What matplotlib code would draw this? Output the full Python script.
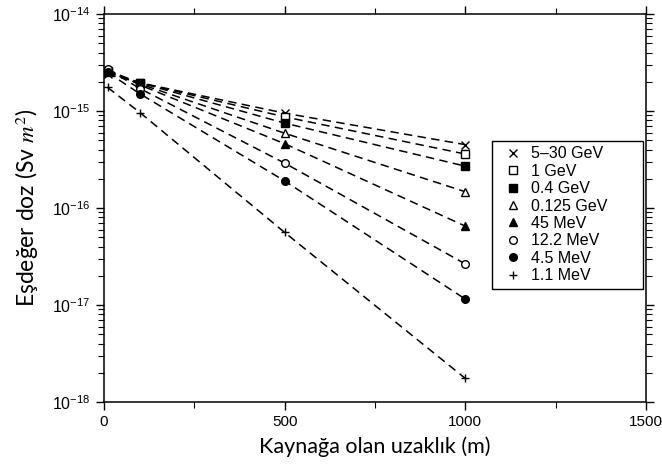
import matplotlib.pyplot as plt
from matplotlib.ticker import FixedLocator, LogLocator, NullFormatter, FixedFormatter
import numpy as np

plt.rcParams['mathtext.fontset'] = 'stix'

# distance from source (m)
distance = [10, 100, 500, 1000]

# equivalent dose (Sv m^2) per neutron energy
labels = ['5–30 GeV', '1 GeV', '0.4 GeV', '0.125 GeV',
          '45 MeV', '12.2 MeV', '4.5 MeV', '1.1 MeV']
dose_5_30gev = [2.4e-15, 1.95e-15, 9.5e-16, 4.5e-16]
dose_1gev = [2.5e-15, 1.95e-15, 8.7e-16, 3.6e-16]
dose_04gev = [2.6e-15, 1.95e-15, 7.5e-16, 2.7e-16]
dose_0125gev = [2.6e-15, 1.9e-15, 5.9e-16, 1.47e-16]
dose_45mev = [2.7e-15, 1.85e-15, 4.6e-16, 6.5e-17]
dose_122mev = [2.7e-15, 1.7e-15, 2.9e-16, 2.65e-17]
dose_45mev_low = [2.5e-15, 1.5e-15, 1.9e-16, 1.15e-17]
dose_11mev = [1.75e-15, 9.6e-16, 5.6e-17, 1.75e-18]

series = [dose_5_30gev, dose_1gev, dose_04gev, dose_0125gev,
          dose_45mev, dose_122mev, dose_45mev_low, dose_11mev]
# marker, filled?
styles = [('x', True), ('s', False), ('s', True), ('^', False),
          ('^', True), ('o', False), ('o', True), ('+', True)]

fig = plt.figure(figsize=(6.62, 4.68), dpi=100)
ax = fig.add_axes([104/662, 1-402/468, 542/662, 388/468])

handles = []
for y, lab, (m, filled) in zip(series, labels, styles):
    ax.plot(distance, y, color='k', linestyle=(0, (5.5, 3.5)), linewidth=1.1)
    ms = 5.5 if m not in ('x', '+') else 6
    h, = ax.plot(distance, y, linestyle='none', marker=m, markersize=ms,
                 markeredgecolor='k', markerfacecolor='k' if filled else 'white',
                 markeredgewidth=1.0, label=lab)
    handles.append(h)

ax.set_yscale('log')
ax.set_xlim(0, 1500)
ax.set_ylim(1e-18, 1e-14)

ax.xaxis.set_major_locator(FixedLocator([0, 500, 1000, 1500]))
ax.xaxis.set_minor_locator(FixedLocator([250, 750, 1250]))
ax.set_xticklabels(['0', '500', '1000', '1500'], fontsize=11, family='Liberation Sans')
ax.yaxis.set_major_locator(FixedLocator([1e-18, 1e-17, 1e-16, 1e-15, 1e-14]))
ax.yaxis.set_major_formatter(FixedFormatter(
    [r'$\mathregular{10^{-%d}}$' % k for k in (18, 17, 16, 15, 14)]))
ax.yaxis.set_minor_locator(LogLocator(base=10, subs=np.arange(2, 10), numticks=20))
ax.yaxis.set_minor_formatter(NullFormatter())
for t in ax.get_yticklabels():
    t.set_fontsize(11.5)
    t.set_family('Liberation Sans')

ax.tick_params(which='both', direction='out', top=True, right=True, color='k')
ax.tick_params(which='major', length=6, width=1)
ax.tick_params(which='minor', length=4, width=0.8)
for s in ax.spines.values():
    s.set_linewidth(1.1)

# legend box stretched out towards the right spine
leg = ax.legend(handles=handles, loc='upper left',
                bbox_to_anchor=(0.716, 0.294, 0.278, 0.379), mode='expand',
                frameon=True, fancybox=False, edgecolor='k', framealpha=1,
                prop={'family': 'Liberation Sans', 'size': 11.5},
                handlelength=1.9, handletextpad=0.2, labelspacing=0.15,
                borderpad=0.35, borderaxespad=0)
leg.get_frame().set_linewidth(1.0)

ax.set_xlabel('Kaynağa olan uzaklık (m)', fontsize=15.5, family='Lato', labelpad=5)
ax.set_ylabel('Eşdeğer doz (Sv $m^2$)', fontsize=16.5, family='Lato', labelpad=8)

fig.savefig('out.png', dpi=100)
